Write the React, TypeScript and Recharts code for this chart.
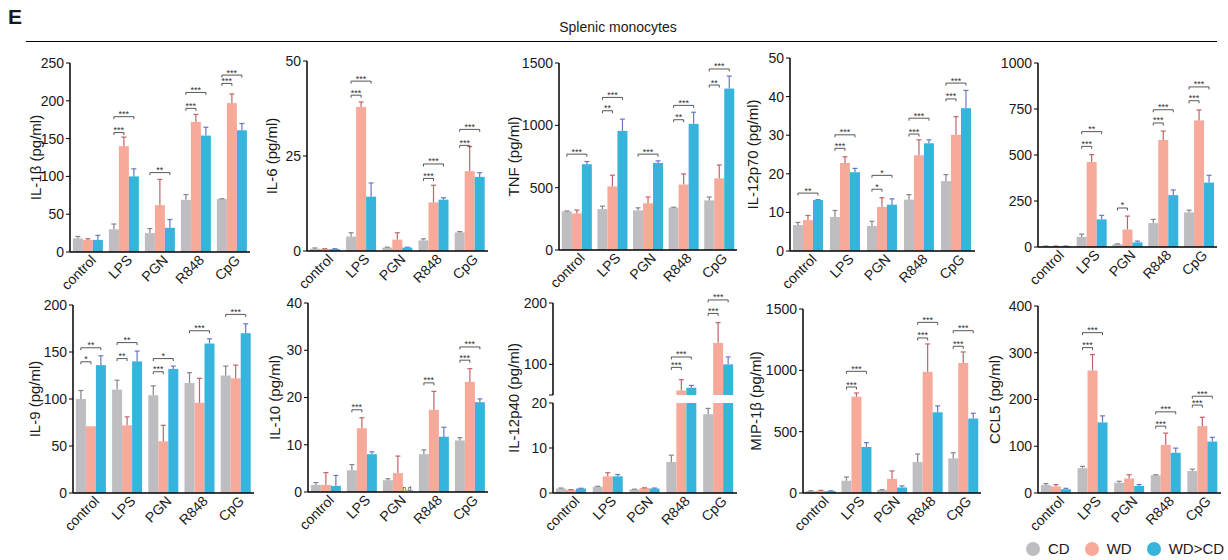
import React from 'react';
import { BarChart, Bar, XAxis, YAxis, Legend } from 'recharts';

const CATS = ['control', 'LPS', 'PGN', 'R848', 'CpG'];

// every entry is [mean, error]
const IL1B_CD = [[18, 2.5], [30, 7], [25, 6], [69, 7], [70, 0.5]];
const IL1B_WD = [[16, 1.5], [140, 12], [62, 34], [172, 10], [197, 12]];
const IL1B_BL = [[16, 6], [100, 10], [32, 11], [154, 11], [161, 9]];
const IL1B_SIG = [['LPS', 'a', 158, '***'], ['LPS', 'b', 179, '***'], ['PGN', 'b', 105, '**'], ['R848', 'a', 190, '***'], ['R848', 'b', 211, '***'], ['CpG', 'a', 223, '***'], ['CpG', 'b', 234, '***']];
const IL1B_TICKS = [0, 50, 100, 150, 200, 250];

const IL6_CD = [[0.6, 0.2], [3.8, 1], [0.9, 0.1], [2.8, 0.4], [4.9, 0.2]];
const IL6_WD = [[0.5, 0.1], [37.9, 1.3], [3.0, 1.8], [12.8, 4.5], [21, 6.5]];
const IL6_BL = [[0.5, 0.1], [14.3, 3.6], [0.9, 0.1], [13.5, 0.5], [19.5, 1.1]];
const IL6_SIG = [['LPS', 'a', 41, '***'], ['LPS', 'b', 44.7, '***'], ['R848', 'a', 19.1, '***'], ['R848', 'b', 22.9, '***'], ['CpG', 'a', 27.8, '***'], ['CpG', 'b', 32, '***']];
const IL6_TICKS = [0, 25, 50];

const TNF_CD = [[310, 3], [328, 24], [318, 20], [340, 3], [398, 27]];
const TNF_WD = [[293, 27], [510, 90], [375, 50], [525, 85], [575, 107]];
const TNF_BL = [[688, 22], [955, 95], [698, 17], [1012, 93], [1295, 100]];
const TNF_SIG = [['control', 'b', 769, '***'], ['LPS', 'a', 1117, '**'], ['LPS', 'b', 1224, '***'], ['PGN', 'b', 769, '***'], ['R848', 'a', 1045, '**'], ['R848', 'b', 1160, '***'], ['CpG', 'a', 1323, '**'], ['CpG', 'b', 1452, '***']];
const TNF_TICKS = [0, 500, 1000, 1500];

const IL12P70_CD = [[6.7, 0.7], [8.8, 1.7], [6.5, 1.2], [13.3, 1.3], [18.1, 1.7]];
const IL12P70_WD = [[8.0, 1.2], [22.8, 1.6], [11.4, 2.4], [24.8, 4.0], [30.1, 4.7]];
const IL12P70_BL = [[13.2, 0.1], [20.4, 1.0], [12.0, 1.5], [27.9, 0.9], [37, 4.6]];
const IL12P70_SIG = [['control', 'b', 15, '**'], ['LPS', 'a', 26.6, '***'], ['LPS', 'b', 30.1, '***'], ['PGN', 'a', 16, '*'], ['PGN', 'b', 19.6, '*'], ['R848', 'a', 30.3, '***'], ['R848', 'b', 34.4, '***'], ['CpG', 'a', 39.4, '***'], ['CpG', 'b', 43.5, '***']];
const IL12P70_TICKS = [0, 10, 20, 30, 40, 50];

const P5_CD = [[4, 1], [55, 15], [15, 2], [130, 20], [188, 12]];
const P5_WD = [[4, 1], [462, 40], [95, 73], [582, 48], [688, 57]];
const P5_BL = [[4, 1], [150, 22], [25, 7], [282, 28], [350, 40]];
const P5_SIG = [['LPS', 'a', 547, '***'], ['LPS', 'b', 627, '**'], ['PGN', 'a', 212, '*'], ['R848', 'a', 674, '***'], ['R848', 'b', 746, '***'], ['CpG', 'a', 795, '***'], ['CpG', 'b', 870, '***']];
const P5_TICKS = [0, 250, 500, 750, 1000];

const IL9_CD = [[100, 9], [110, 10], [104, 10], [117, 11], [125, 10]];
const IL9_WD = [[71, 0], [72, 9], [55, 17], [96, 26], [122, 14]];
const IL9_BL = [[136, 10], [140, 11], [132, 3], [159, 5], [170, 10]];
const IL9_SIG = [['control', 'a', 139.6, '*'], ['control', 'b', 154.5, '**'], ['LPS', 'a', 143, '**'], ['LPS', 'b', 160, '**'], ['PGN', 'a', 129, '***'], ['PGN', 'b', 143, '*'], ['R848', 'b', 172.6, '***'], ['CpG', 'b', 190, '***']];
const IL9_TICKS = [0, 50, 100, 150, 200];

const IL10_CD = [[1.5, 0.5], [4.6, 1.2], [2.5, 0.3], [8.0, 0.9], [10.9, 0.6]];
const IL10_WD = [[1.5, 2.6], [13.5, 2.2], [4.0, 3.6], [17.4, 3.9], [23.3, 2.8]];
const IL10_BL = [[1.3, 2.2], [8.0, 0.5], [0, 0], [11.7, 2.0], [19.0, 0.7]];
const IL10_SIG = [['LPS', 'a', 17.4, '***'], ['PGN', 'nd', 0, 'n.d.'], ['R848', 'a', 23.1, '***'], ['CpG', 'a', 27.9, '***'], ['CpG', 'b', 30.7, '***']];
const IL10_TICKS = [0, 10, 20, 30, 40];

const IL12P40_CD = [[1.0, 0.1], [1.4, 0.1], [0.8, 0.05], [6.9, 1.5], [17.5, 1.3]];
const IL12P40_WD = [[0.7, 0.05], [3.7, 0.8], [1.1, 0.05], [57.4, 17.6], [135, 33]];
const IL12P40_BL = [[1.0, 0.05], [3.7, 0.4], [1.0, 0.1], [61.8, 3.8], [100, 12]];
const IL12P40_SIG = [['R848', 'a', 95, '***'], ['R848', 'b', 112, '***'], ['CpG', 'a', 183, '***'], ['CpG', 'b', 205, '***']];
const IL12P40_LOW_TICKS = [0, 10, 20];
const IL12P40_HIGH_TICKS = [50, 100, 200];

const MIP_CD = [[15, 3], [100, 30], [25, 2], [252, 66], [282, 46]];
const MIP_WD = [[18, 4], [785, 30], [115, 65], [988, 227], [1060, 90]];
const MIP_BL = [[15, 3], [375, 35], [45, 13], [658, 52], [607, 43]];
const MIP_SIG = [['LPS', 'a', 864, '***'], ['LPS', 'b', 992, '***'], ['R848', 'a', 1264, '***'], ['R848', 'b', 1391, '***'], ['CpG', 'a', 1196, '***'], ['CpG', 'b', 1323, '***']];
const MIP_TICKS = [0, 500, 1000, 1500];

const CCL5_CD = [[17, 3], [53, 4], [22, 3], [38, 1], [47, 4]];
const CCL5_WD = [[14, 4], [262, 34], [31, 8], [103, 25], [143, 19]];
const CCL5_BL = [[8, 2], [151, 14], [15, 3], [86, 10], [110, 9]];
const CCL5_SIG = [['LPS', 'a', 311, '***'], ['LPS', 'b', 343, '***'], ['R848', 'a', 143, '***'], ['R848', 'b', 173.6, '***'], ['CpG', 'a', 188, '***'], ['CpG', 'b', 207, '***']];
const CCL5_TICKS = [0, 100, 200, 300, 400];

const C_CD = '#bebdc2';
const C_WD = '#f7aa9a';
const C_BL = '#37b4dc';
const E_CD = '#86848a';
const E_WD = '#c2636a';
const E_BL = '#6a77c2';
const INK = '#1a1a1a';
const FONT = "'Liberation Sans', Arial, Helvetica, sans-serif";
const Y_W = 70;

const buildRows = (cd: number[][], wd: number[][], bl: number[][], keep = (v: number) => v) =>
  CATS.map((cat, i) => ({
    cat,
    cd: keep(cd[i][0]), cdE: cd[i][1],
    wd: keep(wd[i][0]), wdE: wd[i][1],
    bl: keep(bl[i][0]), blE: bl[i][1],
  }));

const barShape = (key: string, errColor: string, dom: number[], sig?: any[]) => (props: any) => {
  const { x, y, width, height, fill, payload, background } = props;
  const v = payload[key];
  if (v == null) return <g />;
  const e = payload[key + 'E'] || 0;
  let base: number;
  let per: number;
  if (background && background.height) {
    base = background.y + background.height;
    per = background.height / (dom[1] - dom[0]);
  } else {
    base = y + height;
    per = height / Math.max(v - dom[0], 1e-6);
  }
  const yOf = (val: number) => base - (val - dom[0]) * per;
  const cx = x + width / 2;
  const parts: any[] = [<rect key="r" x={x} y={y} width={width} height={Math.max(height, 0)} fill={fill} />];
  if (e > 0) {
    const t = yOf(v + e);
    parts.push(<line key="e" x1={cx} x2={cx} y1={y} y2={t} stroke={errColor} strokeWidth={1.2} />);
    parts.push(<line key="c" x1={cx - 2.5} x2={cx + 2.5} y1={t} y2={t} stroke={errColor} strokeWidth={1.2} />);
  }
  (sig || []).filter((s) => s[0] === payload.cat).forEach((s, i) => {
    if (s[1] === 'nd') {
      parts.push(<text key={'n' + i} x={x + width * 1.5} y={base - 1} textAnchor="middle" fontSize={6.5} fill={INK}>{s[3]}</text>);
      return;
    }
    const x1 = x - width / 2;
    const x2 = s[1] === 'a' ? x + width / 2 : x + width * 1.5;
    const yy = yOf(s[2]);
    parts.push(<path key={'b' + i} d={`M${x1},${yy + 2.5}V${yy}H${x2}V${yy + 2.5}`} stroke="#444" strokeWidth={0.9} fill="none" />);
    parts.push(<text key={'t' + i} x={(x1 + x2) / 2} y={yy + 0.5} textAnchor="middle" fontSize={9} fill="#333">{s[3]}</text>);
  });
  return <g>{parts}</g>;
};

// gap: distance from the y axis line to the centre of the rotated title
const yLabel = (text: string, gap: number, dy = 0) => (props: any) => {
  const vb = props.viewBox || { x: 0, y: 0, width: Y_W, height: 0 };
  const cx = vb.x + Y_W - gap;
  const cy = vb.y + vb.height / 2 + dy;
  return (
    <text x={cx} y={cy} transform={`rotate(-90, ${cx}, ${cy})`} textAnchor="middle" dominantBaseline="central" fontSize={15} fill={INK}>
      {text}
    </text>
  );
};

const XTick = (props: any) => {
  const { x, y, payload } = props;
  return (
    <g transform={`translate(${x + 9},${y + 1})`}>
      <text textAnchor="end" transform="rotate(-45)" fontSize={14} fill={INK}>{payload.value}</text>
    </g>
  );
};

const bars = (dom: number[], sig?: any[]) => [
  <Bar key="cd" dataKey="cd" name="CD" fill={C_CD} isAnimationActive={false} shape={barShape('cd', E_CD, dom)} />,
  <Bar key="wd" dataKey="wd" name="WD" fill={C_WD} isAnimationActive={false} shape={barShape('wd', E_WD, dom, sig)} />,
  <Bar key="bl" dataKey="bl" name="WD>CD" fill={C_BL} isAnimationActive={false} shape={barShape('bl', E_BL, dom)} />,
];

const yAxisProps = {
  width: Y_W,
  tick: { fontSize: 14, fill: INK },
  tickSize: 4,
  tickMargin: 2,
  tickLine: { stroke: '#000' },
  axisLine: { stroke: '#000', strokeWidth: 1.5 },
  interval: 0 as const,
};

const PANELS = [
  { label: 'IL-1β (pg/ml)', gap: 35, data: [IL1B_CD, IL1B_WD, IL1B_BL], sig: IL1B_SIG, ticks: IL1B_TICKS, box: [70, 63, 250, 252] },
  { label: 'IL-6 (pg/ml)', gap: 36, data: [IL6_CD, IL6_WD, IL6_BL], sig: IL6_SIG, ticks: IL6_TICKS, box: [307, 61, 488, 251] },
  { label: 'TNF (pg/ml)', gap: 46, data: [TNF_CD, TNF_WD, TNF_BL], sig: TNF_SIG, ticks: TNF_TICKS, box: [559, 63, 737, 250] },
  { label: 'IL-12p70 (pg/ml)', gap: 38, data: [IL12P70_CD, IL12P70_WD, IL12P70_BL], sig: IL12P70_SIG, ticks: IL12P70_TICKS, box: [790, 58, 975, 251] },
  { label: '', gap: 0, data: [P5_CD, P5_WD, P5_BL], sig: P5_SIG, ticks: P5_TICKS, box: [1038, 63, 1217, 247] },
  { label: 'IL-9 (pg/ml)', gap: 39, data: [IL9_CD, IL9_WD, IL9_BL], sig: IL9_SIG, ticks: IL9_TICKS, box: [73, 305, 254, 493] },
  { label: 'IL-10 (pg/ml)', gap: 34, data: [IL10_CD, IL10_WD, IL10_BL], sig: IL10_SIG, ticks: IL10_TICKS, box: [308, 303, 488, 492] },
  { label: 'MIP-1β (pg/ml)', gap: 48, data: [MIP_CD, MIP_WD, MIP_BL], sig: MIP_SIG, ticks: MIP_TICKS, box: [803, 309, 981, 493] },
];

const Panel = ({ p, extraBottom = 0, children }: any) => {
  const [ax, top, right, bottom] = p.box;
  const left = ax - Y_W;
  const cTop = top - 12;
  const width = right - left + 6;
  const height = bottom - cTop + 50 + extraBottom;
  const dom = [0, p.ticks[p.ticks.length - 1]];
  const rows = buildRows(p.data[0], p.data[1], p.data[2]);
  return (
    <div style={{ position: 'absolute', left, top: cTop }}>
      <BarChart width={width} height={height} data={rows} margin={{ top: 12, right: 6, left: 0, bottom: extraBottom }} barGap={0} barCategoryGap="8%">
        <XAxis dataKey="cat" height={50} interval={0} tickLine={false} axisLine={{ stroke: '#000', strokeWidth: 1.5 }} tick={<XTick />} />
        <YAxis {...yAxisProps} domain={dom} ticks={p.ticks} label={p.label ? yLabel(p.label, p.gap) : undefined} />
        {bars(dom, p.sig)}
        {children}
      </BarChart>
    </div>
  );
};

const LegendContent = (props: any) => (
  <div style={{ display: 'flex', alignItems: 'center', fontSize: 15, lineHeight: '14px', color: INK, fontFamily: FONT }}>
    {(props.payload || []).map((e: any) => (
      <div key={e.value} style={{ display: 'flex', alignItems: 'center', marginRight: 15 }}>
        <svg width={14} height={14}><circle cx={7} cy={7} r={7} fill={e.color} /></svg>
        <span style={{ marginLeft: 8 }}>{e.value}</span>
      </div>
    ))}
  </div>
);

const Il12p40 = () => {
  const left = 553 - Y_W;
  const width = 737 - left + 6;
  const lowDom = [0, 20];
  const highDom = [50, 200];
  const lowRows = buildRows(IL12P40_CD, IL12P40_WD, IL12P40_BL);
  const highRows = buildRows(IL12P40_CD, IL12P40_WD, IL12P40_BL, (v) => (v > 20 ? v : (null as any)));
  return (
    <>
      <div style={{ position: 'absolute', left, top: 391 }}>
        <BarChart width={width} height={493 - 391 + 50} data={lowRows} margin={{ top: 12, right: 6, left: 0, bottom: 0 }} barGap={0} barCategoryGap="8%">
          <XAxis dataKey="cat" height={50} interval={0} tickLine={false} axisLine={{ stroke: '#000', strokeWidth: 1.5 }} tick={<XTick />} />
          <YAxis {...yAxisProps} domain={lowDom} ticks={IL12P40_LOW_TICKS} allowDataOverflow />
          {bars(lowDom)}
        </BarChart>
      </div>
      <div style={{ position: 'absolute', left, top: 291 }}>
        <BarChart width={width} height={395 - 291 + 110} data={highRows} margin={{ top: 12, right: 6, left: 0, bottom: 110 }} barGap={0} barCategoryGap="8%">
          <XAxis dataKey="cat" hide />
          <YAxis {...yAxisProps} domain={highDom} ticks={IL12P40_HIGH_TICKS} tickFormatter={(v: number) => (v === 50 ? '' : String(v))} label={yLabel('IL-12p40 (pg/ml)', 40, 49)} />
          {bars(highDom, IL12P40_SIG)}
        </BarChart>
      </div>
    </>
  );
};

const CCL5_PANEL = { label: 'CCL5 (pg/ml)', gap: 44, data: [CCL5_CD, CCL5_WD, CCL5_BL], sig: CCL5_SIG, ticks: CCL5_TICKS, box: [1038, 306, 1221, 493] };

export default function App() {
  return (
    <div style={{ position: 'absolute', left: 0, top: 0, width: 1228, height: 560, background: '#fff', fontFamily: FONT, color: INK, overflow: 'hidden' }}>
      <div style={{ position: 'absolute', left: 8, top: 5, fontSize: 21, fontWeight: 'bold' }}>E</div>
      <div style={{ position: 'absolute', left: 418, width: 400, top: 19, textAlign: 'center', fontSize: 14 }}>Splenic monocytes</div>
      <div style={{ position: 'absolute', left: 26, top: 41, width: 1191, borderTop: '1px solid #000' }} />
      {PANELS.map((p, i) => <Panel key={i} p={p} />)}
      <Il12p40 />
      <Panel p={CCL5_PANEL} extraBottom={17}>
        <Legend verticalAlign="middle" align="center" layout="horizontal" content={<LegendContent />} wrapperStyle={{ left: 58, top: 248, width: 220 }} />
      </Panel>
    </div>
  );
}
